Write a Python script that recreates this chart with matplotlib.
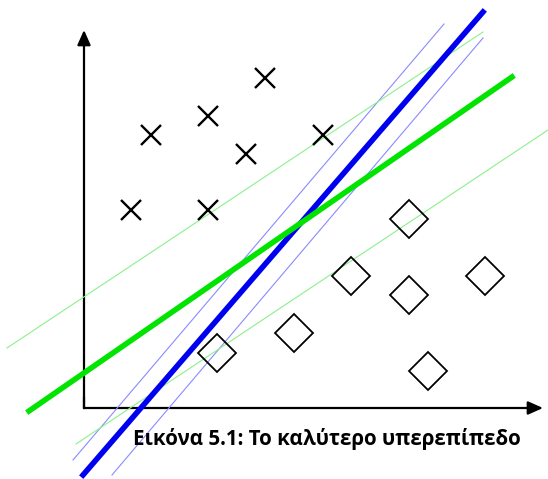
import matplotlib
matplotlib.use("Agg")
import matplotlib.pyplot as plt

# class 1 (crosses) and class 2 (diamonds)
cross_x = [6.7, 12.4, 18.1, 16.2, 4.7, 12.4, 23.9]
cross_y = [27.3, 29.2, 33.0, 25.4, 19.8, 19.8, 27.3]
diam_x = [32.5, 13.3, 26.7, 21.0, 32.5, 40.1, 34.4]
diam_y = [18.9, 5.5, 13.2, 7.5, 11.3, 13.2, 3.7]

# separating lines (end points) and their margins
blue_x = [-0.1, 39.9]
blue_y = [-6.7, 39.6]
blue_m1_x = [-1.1, 36.0]
blue_m1_y = [-5.2, 38.4]
blue_m2_x = [2.8, 39.9]
blue_m2_y = [-6.7, 37.0]

green_x = [-5.5, 42.8]
green_y = [-0.3, 33.1]
green_m1_x = [-7.7, 39.9]
green_m1_y = [6.0, 37.6]
green_m2_x = [-0.8, 46.4]
green_m2_y = [-3.6, 27.8]

x_axis_end = 45.9
y_axis_end = 37.8

caption = "Εικόνα 5.1: Το καλύτερο υπερεπίπεδο"

fig = plt.figure(figsize=(5.48, 4.79), dpi=100)
ax = fig.add_axes([0, 0, 1, 1])
ax.set_xlim(-8.4, 46.4)
ax.set_ylim(-7.1, 40.8)
ax.axis("off")

# axes arrows
arrow = dict(arrowstyle="-|>,head_length=0.9,head_width=0.4", color="black",
             lw=1.6, shrinkA=0, shrinkB=0)
ax.annotate("", xy=(x_axis_end, 0), xytext=(0, 0), arrowprops=arrow, zorder=1)
ax.annotate("", xy=(0, y_axis_end), xytext=(0, 0), arrowprops=arrow, zorder=1)
ax.plot([0, 0], [0, 1], color="black", lw=1.6, zorder=1)

# thin margin lines
ax.plot(blue_m1_x, blue_m1_y, color="#8a8aff", lw=0.8, zorder=2)
ax.plot(blue_m2_x, blue_m2_y, color="#8a8aff", lw=0.8, zorder=2)
ax.plot(green_m1_x, green_m1_y, color="#8cf08c", lw=0.8, zorder=2)
ax.plot(green_m2_x, green_m2_y, color="#8cf08c", lw=0.8, zorder=2)

# points
ax.plot(cross_x, cross_y, linestyle="none", marker="x", ms=14,
        mew=1.7, color="black", zorder=3)
ax.plot(diam_x, diam_y, linestyle="none", marker="D", ms=19,
        mew=1.3, mfc="none", mec="black", zorder=3)

# main hyperplanes
ax.plot(blue_x, blue_y, color="#0000f0", lw=4, zorder=4)
ax.plot(green_x, green_y, color="#00e400", lw=4, zorder=5)

fig.text(0.597, 0.071, caption, fontsize=14.8, fontweight="bold",
         family=["Open Sans", "DejaVu Sans"], ha="center", va="baseline")

fig.savefig("out.png", dpi=100)
